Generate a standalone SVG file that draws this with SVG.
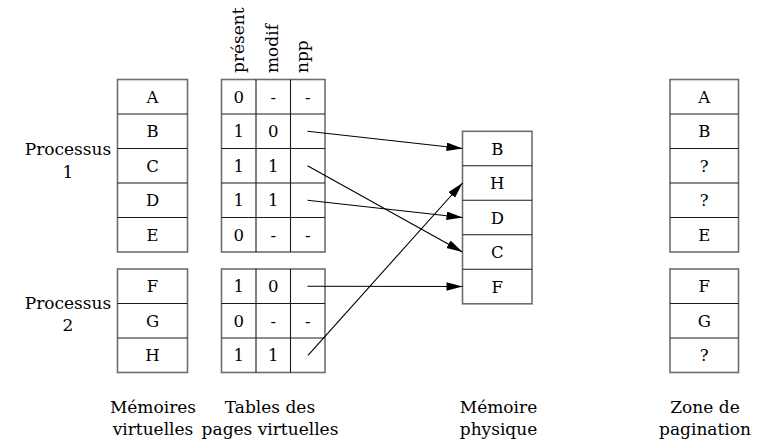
<svg xmlns="http://www.w3.org/2000/svg" width="767" height="445" viewBox="0 0 767 445">
  <style>
    text { font-family: "DejaVu Serif", "Liberation Serif", serif; font-size: 16.5px; fill: #000; }
    .c { text-anchor: middle; }
    .lbl { font-size: 17px; }
    .box { fill: #fff; stroke: #6e6e6e; stroke-width: 1.6; }
    .sep { stroke: #1a1a1a; stroke-width: 1.1; }
    .link { stroke: #000; stroke-width: 1.1; fill: none; marker-end: url(#arrow); }
  </style>
  <defs>
    <marker id="arrow" markerUnits="userSpaceOnUse" markerWidth="17" markerHeight="9" refX="16" refY="4.25" orient="auto">
      <path d="M0,0 L16,4.25 L0,8.5 z" fill="#000"/>
    </marker>
  </defs>

  <!-- process labels -->
  <g id="proc1">
    <text class="c lbl" x="68" y="155">Processus</text>
    <text class="c lbl" x="68" y="177.5">1</text>
  </g>
  <g id="proc2">
    <text class="c lbl" x="68" y="309">Processus</text>
    <text class="c lbl" x="68" y="331">2</text>
  </g>

  <!-- virtual memories -->
  <g id="virt1">
    <rect class="box" x="117.5" y="79.5" width="70" height="172.5"/>
    <path class="sep" d="M117.5,114 H187.5 M117.5,148.5 H187.5 M117.5,183 H187.5 M117.5,217.5 H187.5"/>
    <text class="c" x="152.5" y="102.8">A</text>
    <text class="c" x="152.5" y="137.3">B</text>
    <text class="c" x="152.5" y="171.8">C</text>
    <text class="c" x="152.5" y="206.3">D</text>
    <text class="c" x="152.5" y="240.8">E</text>
  </g>
  <g id="virt2">
    <rect class="box" x="117.5" y="269" width="70" height="103.5"/>
    <path class="sep" d="M117.5,303.5 H187.5 M117.5,338 H187.5"/>
    <text class="c" x="152.5" y="292.3">F</text>
    <text class="c" x="152.5" y="326.8">G</text>
    <text class="c" x="152.5" y="361.3">H</text>
  </g>

  <!-- page table headers -->
  <g id="headers">
    <text class="lbl" transform="translate(244,73) rotate(-90)">présent</text>
    <text class="lbl" transform="translate(278,73) rotate(-90)">modif</text>
    <text class="lbl" transform="translate(308,73) rotate(-90)">npp</text>
  </g>

  <!-- page tables -->
  <g id="table1">
    <rect class="box" x="221.5" y="79.5" width="103.5" height="172.5"/>
    <path class="sep" d="M221.5,114 H325 M221.5,148.5 H325 M221.5,183 H325 M221.5,217.5 H325 M256,79.5 V252 M290.5,79.5 V252"/>
    <text class="c" x="238.75" y="102.8">0</text><text class="c" x="273.25" y="102.8">-</text><text class="c" x="307.75" y="102.8">-</text>
    <text class="c" x="238.75" y="137.3">1</text><text class="c" x="273.25" y="137.3">0</text>
    <text class="c" x="238.75" y="171.8">1</text><text class="c" x="273.25" y="171.8">1</text>
    <text class="c" x="238.75" y="206.3">1</text><text class="c" x="273.25" y="206.3">1</text>
    <text class="c" x="238.75" y="240.8">0</text><text class="c" x="273.25" y="240.8">-</text><text class="c" x="307.75" y="240.8">-</text>
  </g>
  <g id="table2">
    <rect class="box" x="221.5" y="269" width="103.5" height="103.5"/>
    <path class="sep" d="M221.5,303.5 H325 M221.5,338 H325 M256,269 V372.5 M290.5,269 V372.5"/>
    <text class="c" x="238.75" y="292.3">1</text><text class="c" x="273.25" y="292.3">0</text>
    <text class="c" x="238.75" y="326.8">0</text><text class="c" x="273.25" y="326.8">-</text><text class="c" x="307.75" y="326.8">-</text>
    <text class="c" x="238.75" y="361.3">1</text><text class="c" x="273.25" y="361.3">1</text>
  </g>

  <!-- physical memory -->
  <g id="phys">
    <rect class="box" x="462.5" y="131.3" width="69.5" height="172.5"/>
    <path class="sep" d="M462.5,165.8 H532 M462.5,200.3 H532 M462.5,234.8 H532 M462.5,269.3 H532"/>
    <text class="c" x="497.25" y="154.6">B</text>
    <text class="c" x="497.25" y="189.1">H</text>
    <text class="c" x="497.25" y="223.6">D</text>
    <text class="c" x="497.25" y="258.1">C</text>
    <text class="c" x="497.25" y="292.6">F</text>
  </g>

  <!-- swap area -->
  <g id="swap1">
    <rect class="box" x="670" y="79.5" width="68.5" height="172.5"/>
    <path class="sep" d="M670,114 H738.5 M670,148.5 H738.5 M670,183 H738.5 M670,217.5 H738.5"/>
    <text class="c" x="704.25" y="102.8">A</text>
    <text class="c" x="704.25" y="137.3">B</text>
    <text class="c" x="704.25" y="171.8">?</text>
    <text class="c" x="704.25" y="206.3">?</text>
    <text class="c" x="704.25" y="240.8">E</text>
  </g>
  <g id="swap2">
    <rect class="box" x="670" y="269" width="68.5" height="103.5"/>
    <path class="sep" d="M670,303.5 H738.5 M670,338 H738.5"/>
    <text class="c" x="704.25" y="292.3">F</text>
    <text class="c" x="704.25" y="326.8">G</text>
    <text class="c" x="704.25" y="361.3">?</text>
  </g>

  <!-- npp links to physical frames -->
  <g id="connectors">
    <line class="link" x1="307.5" y1="131.3" x2="462.5" y2="148.5"/>
    <line class="link" x1="307.5" y1="165.8" x2="462.5" y2="252"/>
    <line class="link" x1="307.5" y1="200.3" x2="462.5" y2="217.5"/>
    <line class="link" x1="307.5" y1="286.3" x2="462.5" y2="286.5"/>
    <line class="link" x1="308" y1="355.3" x2="462.5" y2="183"/>
  </g>

  <!-- column captions -->
  <g id="captions">
    <text class="c lbl" x="153" y="413">Mémoires</text>
    <text class="c lbl" x="153" y="435">virtuelles</text>
    <text class="c lbl" x="270" y="413">Tables des</text>
    <text class="c lbl" x="270" y="435">pages virtuelles</text>
    <text class="c lbl" x="498.5" y="413">Mémoire</text>
    <text class="c lbl" x="498.5" y="435">physique</text>
    <text class="c lbl" x="705" y="413">Zone de</text>
    <text class="c lbl" x="705" y="435">pagination</text>
  </g>
</svg>
